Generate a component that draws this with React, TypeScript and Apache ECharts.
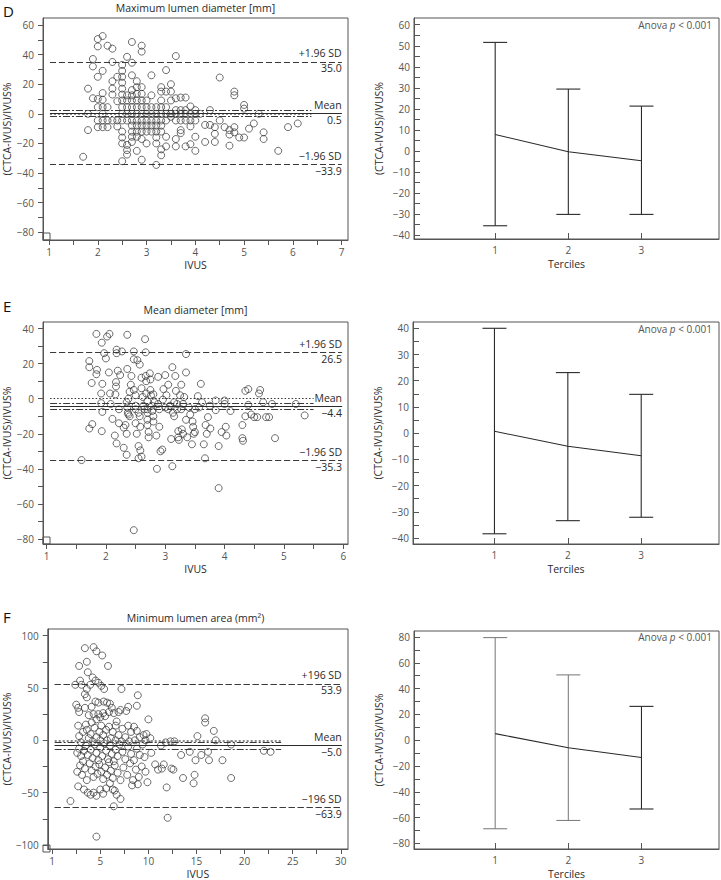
import React, { useEffect, useRef } from "react";
import * as echarts from "echarts";

const FONT = "'Open Sans', 'Noto Sans', sans-serif";
const INK = "#2a2a2a";
const GREY = "#555555";

// ---------- shared ----------
const tercileCats = [1, 2, 3];
const tercileTicks = [1, 2, 3];

// ---------- D: Maximum lumen diameter [mm] ----------
const maxDiamPoints: number[][] = [
  [1.7, -29], [1.8, 17], [1.8, 0], [1.8, -11],
  [1.9, 37], [1.9, 32], [1.9, 10.5],
  [2.0, 50.5], [2.0, 45.5], [2.0, 25], [2.0, 10], [2.0, 4.5], [2.0, -4.5], [2.0, -9],
  [2.1, 52.5], [2.1, 29], [2.1, 14], [2.1, 9.5], [2.1, 4.5], [2.1, 0], [2.1, -4.5], [2.1, -9],
  [2.2, 46], [2.2, 4.5], [2.2, -4.5], [2.2, -9],
  [2.3, 44], [2.3, 35], [2.3, 22], [2.3, 17], [2.3, 13], [2.3, -4.5],
  [2.4, 25], [2.4, 8.5], [2.4, -4.5], [2.4, -8.5],
  [2.5, 33], [2.5, 29], [2.5, 25], [2.5, 21], [2.5, 17], [2.5, 13], [2.5, 9], [2.5, 4.5], [2.5, 0], [2.5, -4.5], [2.5, -12], [2.5, -16], [2.5, -20], [2.5, -32],
  [2.6, 38.5], [2.6, 12.5], [2.6, 9], [2.6, 4.5], [2.6, 0], [2.6, -4.5], [2.6, -21], [2.6, -24.5], [2.6, -27.5],
  [2.7, 48.5], [2.7, 34.5], [2.7, 26], [2.7, 16], [2.7, 12.5], [2.7, 9], [2.7, 4.5], [2.7, 0], [2.7, -4.5], [2.7, -8], [2.7, -12], [2.7, -15.5], [2.7, -19],
  [2.8, 22], [2.8, 18], [2.8, 13.5], [2.8, 9], [2.8, 4.5], [2.8, 0], [2.8, -4.5], [2.8, -8], [2.8, -12], [2.8, -15.5], [2.8, -25],
  [2.9, 46], [2.9, 42], [2.9, 18], [2.9, 13.5], [2.9, 9], [2.9, 4.5], [2.9, 0], [2.9, -4.5], [2.9, -8], [2.9, -12], [2.9, -17], [2.9, -31],
  [3.0, 9], [3.0, 4.5], [3.0, 0], [3.0, -4.5], [3.0, -8], [3.0, -12], [3.0, -20],
  [3.1, 26], [3.1, 12.5], [3.1, 4.5], [3.1, 0], [3.1, -4.5], [3.1, -8], [3.1, -12],
  [3.2, 4.5], [3.2, 0], [3.2, -4.5], [3.2, -8], [3.2, -12], [3.2, -16], [3.2, -20], [3.2, -34.5],
  [3.3, 18], [3.3, 15], [3.3, 9], [3.3, 4.5], [3.3, 0], [3.3, -4.5], [3.3, -8], [3.3, -12], [3.3, -24], [3.3, -28],
  [3.4, 29.5], [3.4, 15], [3.4, 4.5], [3.4, 0], [3.4, -4.5], [3.4, -15.5], [3.4, -22],
  [3.5, 20], [3.5, 15], [3.5, 9], [3.5, 0], [3.5, -2],
  [3.6, 39], [3.6, 10.5], [3.6, 2.5], [3.6, 0], [3.6, -4.5], [3.6, -17], [3.6, -22],
  [3.7, 11], [3.7, 2.5], [3.7, 0], [3.7, -4.5], [3.7, -11], [3.7, -13],
  [3.8, 11], [3.8, 2.5], [3.8, 0], [3.8, -4.5], [3.8, -22],
  [3.9, 5], [3.9, 0], [3.9, -4.5], [3.9, -8.5], [3.9, -20.5],
  [4.0, 2.5], [4.0, 0], [4.0, -4.5], [4.0, -15.5], [4.0, -25],
  [4.1, 0], [4.2, -7.5], [4.2, -19], [4.3, 2.5], [4.3, -7.5],
  [4.4, -9], [4.4, -13.5], [4.4, -19], [4.5, 24.5], [4.5, -4.5], [4.6, -9],
  [4.7, -11], [4.7, -14], [4.7, -21.5], [4.8, 15], [4.8, 12.5], [4.8, -9], [4.8, -12.5],
  [4.9, -16], [5.0, 6], [5.0, 3.5], [5.0, -16], [5.1, -10], [5.2, -6.5], [5.3, 0],
  [5.4, -12.5], [5.4, -17], [5.7, -25], [5.9, -9], [6.1, -6.5],
];
const maxDiamLimits = [35.0, 0.5, -33.9]; // +1.96 SD, mean, -1.96 SD
const maxDiamMeanCI = [2.5, -1.5];
const maxDiamSpan = [1.02, 7.0];
const maxDiamCISpan = [1.02, 6.38];
const maxDiamXTicks = [1, 1.5, 2, 2.5, 3, 3.5, 4, 4.5, 5, 5.5, 6, 6.5, 7];
const maxDiamXLabels = [1, 2, 3, 4, 5, 6, 7];
const maxDiamYTicks = [-80, -70, -60, -50, -40, -30, -20, -10, 0, 10, 20, 30, 40, 50, 60];
const maxDiamYLabels = [-80, -60, -40, -20, 0, 20, 40, 60];
const maxDiamTercMean = [7.8, -0.4, -4.7];
const maxDiamTercLow = [-35.6, -30.2, -30.2];
const maxDiamTercHigh = [51.6, 29.4, 21.3];
const maxDiamTercYTicks = [-40, -35, -30, -25, -20, -15, -10, -5, 0, 5, 10, 15, 20, 25, 30, 35, 40, 45, 50, 55, 60];
const maxDiamTercYLabels = [-40, -30, -20, -10, 0, 10, 20, 30, 40, 50, 60];

// ---------- E: Mean diameter [mm] ----------
const meanDiamPoints: number[][] = [
  [1.59, -35], [1.72, 21.5], [1.72, 18], [1.76, 9], [1.72, -17], [1.77, -14.5],
  [1.84, 37], [1.85, 16.5], [1.84, 14], [1.93, 32], [1.92, 3], [1.92, -2.5], [1.94, -7.5], [1.94, 8.5], [1.93, -18.5],
  [1.97, 26], [2.0, 23], [2.02, 35.5], [2.06, 37], [2.05, 15], [2.07, 3], [2.08, -3], [2.11, -11.5], [2.15, -21], [2.18, -25.5],
  [2.17, 9.5], [2.17, 7], [2.16, 2.5], [2.18, 28], [2.18, 26], [2.2, 16], [2.22, -6], [2.22, -14], [2.24, 13.5],
  [2.27, 27], [2.3, -16.5], [2.3, -28], [2.33, -15], [2.35, -20], [2.35, -32], [2.36, 36.5], [2.36, 17], [2.35, -2], [2.36, -5], [2.37, -8], [2.38, -9], [2.4, -10], [2.4, 4], [2.38, 0], [2.42, 8], [2.43, 13],
  [2.47, 27], [2.47, 22.5], [2.47, 5], [2.5, -4], [2.5, -6], [2.5, -14], [2.52, -20], [2.5, 2], [2.53, 22], [2.55, -34], [2.55, -27], [2.57, 19.5], [2.55, -8], [2.57, -10], [2.58, -16], [2.58, -29.5], [2.6, -33],
  [2.6, 12], [2.6, 6], [2.62, 1], [2.63, -4], [2.65, -6], [2.66, 34], [2.67, 26.5], [2.67, 13], [2.68, 10], [2.68, 3], [2.7, -1.5], [2.7, -6], [2.7, -8], [2.7, -12], [2.7, -15], [2.72, -19], [2.72, -22],
  [2.74, 14.5], [2.75, 11], [2.75, 5], [2.76, 2], [2.77, -4], [2.78, -7], [2.8, -10], [2.8, -13], [2.8, 2.5], [2.82, -2], [2.85, -21], [2.86, -40], [2.88, 12.5], [2.88, -3], [2.9, -6], [2.9, -16], [2.92, -30], [2.95, -29], [2.96, -0.5], [2.97, 5.5],
  [3.0, -5], [3.0, 13.5], [3.02, 2], [3.05, 8], [3.05, -6], [3.08, -4], [3.1, -23], [3.12, 18], [3.12, -38.5], [3.13, -8], [3.15, -10], [3.15, -2], [3.17, 13], [3.18, 4.5], [3.2, -6], [3.2, -3], [3.22, -18.5], [3.22, -22], [3.23, -23.5], [3.25, 2], [3.27, 8], [3.27, -6], [3.28, -17.5], [3.3, -3], [3.3, -20], [3.32, 1], [3.35, 25.5], [3.35, 15], [3.35, -12], [3.37, -22],
  [3.4, -5], [3.42, -9], [3.45, -26], [3.46, -13], [3.47, -16], [3.48, -20], [3.5, -6], [3.5, -19], [3.55, 1.5], [3.57, -5], [3.6, 8.5], [3.62, -2], [3.65, -26], [3.67, -34], [3.68, -15], [3.7, -20], [3.72, -10.5], [3.75, -4], [3.76, -17],
  [3.85, -1], [3.85, -6.5], [3.9, -27], [3.9, -51], [3.95, -19], [4.0, -1], [4.0, -3], [4.02, -16], [4.03, -21], [4.1, -7],
  [4.3, -15], [4.3, -22.5], [4.31, -24], [4.35, 4.5], [4.35, -10], [4.4, 5.5], [4.4, -3.5], [4.45, -9], [4.5, -10.5], [4.55, -10.5], [4.58, 3], [4.6, 5], [4.65, -2], [4.7, -10.5], [4.75, -10.5], [4.8, -3], [4.85, -22.5], [5.2, -3], [5.35, -9.5],
  [2.47, -75],
];
const meanDiamLimits = [26.5, -4.4, -35.3];
const meanDiamMeanCI = [-2.6, -6.2];
const meanDiamSpan = [1.06, 5.98];
const meanDiamCISpan = [1.06, 5.5];
const meanDiamXTicks = [1, 1.5, 2, 2.5, 3, 3.5, 4, 4.5, 5, 5.5, 6];
const meanDiamXLabels = [1, 2, 3, 4, 5, 6];
const meanDiamYTicks = [-80, -70, -60, -50, -40, -30, -20, -10, 0, 10, 20, 30, 40];
const meanDiamYLabels = [-80, -60, -40, -20, 0, 20, 40];
const meanDiamTercMean = [0.7, -5.0, -8.6];
const meanDiamTercLow = [-38.4, -33.4, -32.1];
const meanDiamTercHigh = [40.0, 23.1, 14.8];
const meanDiamTercYTicks = [-40, -35, -30, -25, -20, -15, -10, -5, 0, 5, 10, 15, 20, 25, 30, 35, 40];
const meanDiamTercYLabels = [-40, -30, -20, -10, 0, 10, 20, 30, 40];

// ---------- F: Minimum lumen area (mm2) ----------
const minAreaPoints: number[][] = [
  [3.4, 88], [4.3, 89], [4.6, 85], [5.2, 81], [5.8, 71], [2.8, 71], [3.6, 75], [3.7, 65], [4.2, 60], [4.5, 57], [4.8, 55],
  [2.4, 53], [2.9, 57], [3.05, 53], [3.4, 44], [3.6, 49], [3.95, 53], [5.1, 52], [5.4, 49], [7.2, 49], [8.9, 43],
  [2.5, 34], [2.7, 31], [2.8, 27], [3.4, 31], [3.6, 41], [4.1, 32], [4.5, 37], [4.8, 36], [5.35, 37], [5.7, 36], [6.0, 35], [6.2, 31], [6.9, 27], [7.1, 29], [7.7, 28], [7.9, 32], [8.8, 33],
  [4.3, 25], [4.8, 25], [5.3, 26], [5.9, 27], [6.4, 26], [10.0, 20], [6.7, 18], [5.5, 23], [3.8, 24], [4.6, 20], [5.0, 22],
  [2.7, 14], [3.5, 15], [4.1, 17], [2.8, 4], [3.0, -2], [3.2, 8], [3.6, 10], [4.0, 6], [4.4, 12], [4.6, 3], [4.9, 8], [5.1, 14], [5.3, 5], [5.6, 10], [5.9, 13], [6.1, 2], [6.3, 8], [6.6, 14], [6.9, 5], [7.3, 11], [7.6, 3], [7.9, 14], [8.2, 8], [8.5, 13], [8.8, 9], [9.1, 3], [9.5, 5], [9.7, 0], [9.8, 6], [10.2, 2],
  [5.0, 0], [5.7, 0], [6.6, 0], [7.2, -1], [8.0, -1], [8.6, 0], [4.2, -1], [3.8, 2],
  [2.6, -12], [2.8, -8], [3.0, -15], [3.2, -20], [3.3, -10], [3.5, -5], [3.7, -14], [4.0, -9], [4.2, -17], [4.4, -4], [4.6, -12], [4.8, -19], [5.0, -7], [5.2, -15], [5.4, -3], [5.6, -10], [5.8, -18], [6.0, -5], [6.2, -13], [6.4, -20], [6.6, -9], [6.8, -15], [7.0, -4], [7.3, -11], [7.6, -18], [7.9, -6], [8.2, -13], [8.5, -19], [8.8, -8], [9.1, -14], [9.4, -4], [9.6, -16], [10.3, -12],
  [11.3, -5], [11.8, -2], [12.3, -1], [12.7, -1], [13.4, -14], [14.3, -11], [14.9, -19], [15.1, 4], [15.5, -14], [15.9, 21], [15.9, 17], [16.2, -11], [16.3, -19], [16.8, 9], [17.0, 0], [17.7, -19], [18.6, -4], [22.0, -10], [22.7, -11],
  [2.6, -30], [2.9, -24], [3.1, -33], [3.4, -27], [3.6, -38], [3.9, -22], [4.1, -29], [4.3, -35], [4.5, -25], [4.7, -32], [4.9, -23], [5.1, -30], [5.3, -37], [5.5, -26], [5.7, -33], [5.9, -21], [6.1, -29], [6.3, -36], [6.5, -24], [6.8, -31], [7.1, -38], [7.4, -26], [7.8, -33], [8.1, -22], [8.4, -38], [8.7, -28], [9.0, -35], [9.3, -25], [9.7, -30],
  [10.7, -23], [11.0, -28], [11.4, -27], [11.6, -23], [12.4, -27], [12.6, -28], [13.6, -36], [14.7, -41], [14.8, -33], [18.6, -36],
  [2.7, -44], [3.3, -47], [3.7, -50], [4.0, -52], [4.3, -50], [4.6, -53], [5.0, -47], [5.3, -51], [5.6, -46], [6.0, -41], [6.3, -47], [6.5, -48], [6.7, -52], [7.1, -56], [8.3, -43], [8.9, -42], [9.9, -40], [11.9, -45],
  [1.9, -58], [6.4, -63], [12.0, -74], [4.6, -92],
];
const minAreaLimits = [53.9, -5.0, -63.9];
const minAreaMeanCI = [-1.6, -8.4];
const minAreaSpan = [0.26, 30.1];
const minAreaCISpan = [0.26, 23.8];
const minAreaXTicks = [0, 2.5, 5, 7.5, 10, 12.5, 15, 17.5, 20, 22.5, 25, 27.5, 30];
const minAreaXLabels = [0, 5, 10, 15, 20, 25, 30];
const minAreaYTicks = [-100, -75, -50, -25, 0, 25, 50, 75, 100];
const minAreaYLabels = [-100, -50, 0, 50, 100];
const minAreaTercMean = [5.1, -5.8, -13.4];
const minAreaTercLow = [-68.6, -62.2, -53.3];
const minAreaTercHigh = [79.5, 50.6, 26.2];
const minAreaTercYTicks = [-80, -70, -60, -50, -40, -30, -20, -10, 0, 10, 20, 30, 40, 50, 60, 70, 80];
const minAreaTercYLabels = [-80, -60, -40, -20, 0, 20, 40, 60, 80];

// ---------- helpers ----------
const fmt = (v: number) => (v < 0 ? "\u2212" + Math.abs(v) : String(v));
const fmtFixed = (v: number) => (v < 0 ? "\u2212" + Math.abs(v).toFixed(1) : v.toFixed(1));

const tickLabelStyle = { color: GREY, fontSize: 10, fontFamily: FONT };
const nameStyle = { color: INK, fontSize: 10.5, fontFamily: FONT };

function baAxes(gi: number, cfg: any) {
  const xAxis = {
    type: "value", gridIndex: gi, min: cfg.xMin, max: cfg.xMax,
    name: "IVUS", nameLocation: "middle", nameGap: 19, nameTextStyle: nameStyle,
    axisLine: { show: true, onZero: false, lineStyle: { color: GREY } },
    splitLine: { show: false },
    axisTick: { show: true, length: 5, customValues: cfg.xTicks, lineStyle: { color: GREY } },
    axisLabel: { customValues: cfg.xLabels, margin: 7, ...tickLabelStyle, formatter: cfg.xFmt || fmt },
  };
  const yAxis = {
    type: "value", gridIndex: gi, min: cfg.yMin, max: cfg.yMax,
    name: "(CTCA-IVUS)/IVUS%", nameLocation: "middle", nameGap: 30, nameTextStyle: nameStyle,
    axisLine: { show: true, onZero: false, lineStyle: { color: GREY } },
    splitLine: { show: false },
    axisTick: { show: true, length: 5, customValues: cfg.yTicks, lineStyle: { color: GREY } },
    axisLabel: { customValues: cfg.yLabels, margin: 9, ...tickLabelStyle, formatter: fmt },
  };
  return { xAxis, yAxis };
}

function hLine(y: number, span: number[], lineStyle: any, label?: string, pos?: string) {
  return [
    {
      coord: [span[0], y],
      lineStyle,
      label: label
        ? { show: true, position: pos, formatter: label, color: INK, fontSize: 10.5, fontFamily: FONT, distance: pos === "insideEndTop" ? [0, 3] : [0, 1] }
        : { show: false },
    },
    { coord: [span[1], y] },
  ];
}

function baSeries(gi: number, cfg: any) {
  const dashed = { color: "#3a3a3a", width: 1.1, type: [6, 3] };
  const solid = { color: "#2a2a2a", width: 1.1, type: "solid" };
  const dashDot = { color: "#3a3a3a", width: 1, type: [7, 2, 2, 2] };
  const [up, mean, lo] = cfg.limits;
  return {
    type: "scatter", xAxisIndex: gi, yAxisIndex: gi,
    data: cfg.points,
    symbol: "circle", symbolSize: 7,
    itemStyle: { color: "rgba(255,255,255,0)", borderColor: "#333", borderWidth: 0.9 },
    silent: true,
    markLine: {
      silent: true, symbol: ["none", "none"], animation: false,
      emphasis: { disabled: true },
      data: [
        hLine(0, cfg.ciSpan, cfg.zeroStyle),
        hLine(cfg.ci[0], cfg.ciSpan, dashDot),
        hLine(cfg.ci[1], cfg.ciSpan, dashDot),
        hLine(up, cfg.span, dashed, cfg.upLabel, "insideEndTop"),
        hLine(up, cfg.span, dashed, fmtFixed(up), "insideEndBottom"),
        hLine(mean, cfg.span, solid, "Mean", "insideEndTop"),
        hLine(mean, cfg.span, solid, fmtFixed(mean), "insideEndBottom"),
        hLine(lo, cfg.span, dashed, cfg.loLabel, "insideEndTop"),
        hLine(lo, cfg.span, dashed, fmtFixed(lo), "insideEndBottom"),
      ],
    },
  };
}

function tercAxes(gi: number, cfg: any) {
  const xAxis = {
    type: "value", gridIndex: gi, min: -0.11, max: 4.06,
    name: "Terciles", nameLocation: "middle", nameGap: 19, nameTextStyle: nameStyle,
    axisLine: { show: true, onZero: false, lineStyle: { color: GREY } },
    splitLine: { show: false },
    axisTick: { show: true, inside: true, length: 6, customValues: tercileTicks, lineStyle: { color: GREY } },
    axisLabel: { customValues: tercileTicks, margin: 6, ...tickLabelStyle },
  };
  const yAxis = {
    type: "value", gridIndex: gi, min: cfg.yMin, max: cfg.yMax,
    name: "(CTCA-IVUS)/IVUS%", nameLocation: "middle", nameGap: 30, nameTextStyle: nameStyle,
    axisLine: { show: true, onZero: false, lineStyle: { color: GREY } },
    splitLine: { show: false },
    axisTick: { show: true, inside: true, length: 6, customValues: cfg.yTicks, lineStyle: { color: GREY } },
    axisLabel: { customValues: cfg.yLabels, margin: 4, ...tickLabelStyle, formatter: fmt },
  };
  return { xAxis, yAxis };
}

function tercSeries(gi: number, cfg: any) {
  const data = tercileCats.map((c, i) => [c, cfg.mean[i], cfg.low[i], cfg.high[i]]);
  return [
    {
      type: "custom", xAxisIndex: gi, yAxisIndex: gi, data, silent: true,
      encode: { x: 0, y: [2, 3] },
      renderItem: (params: any, api: any) => {
        const x = api.value(0);
        const top = api.coord([x, api.value(3)]);
        const bot = api.coord([x, api.value(2)]);
        const hw = 12;
        const style = { stroke: cfg.colors[params.dataIndex], lineWidth: 1.1, fill: "none" };
        return {
          type: "group",
          children: [
            { type: "line", shape: { x1: top[0], y1: top[1], x2: bot[0], y2: bot[1] }, style },
            { type: "line", shape: { x1: top[0] - hw, y1: top[1], x2: top[0] + hw, y2: top[1] }, style },
            { type: "line", shape: { x1: bot[0] - hw, y1: bot[1], x2: bot[0] + hw, y2: bot[1] }, style },
          ],
        };
      },
    },
    {
      type: "line", xAxisIndex: gi, yAxisIndex: gi, silent: true,
      data: tercileCats.map((c, i) => [c, cfg.mean[i]]),
      symbol: "none", lineStyle: { color: "#2a2a2a", width: 1.1 },
    },
  ];
}

function textG(text: string, x: number, y: number, align: string, size: number, color: string, rich?: any, vAlign = "middle") {
  return {
    type: "text", x, y, silent: true,
    style: { text, align, verticalAlign: vAlign, fontSize: size, fontFamily: FONT, fill: color, rich },
  };
}

export default function App() {
  const ref = useRef<HTMLDivElement>(null);
  useEffect(() => {
    if (!ref.current) return;
    const chart = echarts.init(ref.current, undefined, { renderer: "svg" });

    const gridBase = { show: true, borderColor: GREY, borderWidth: 1, backgroundColor: "transparent", containLabel: false };
    const grids = [
      { ...gridBase, left: 43, top: 18, width: 305, height: 222 },
      { ...gridBase, left: 414, top: 18, width: 305, height: 221 },
      { ...gridBase, left: 43, top: 322, width: 305, height: 222 },
      { ...gridBase, left: 413, top: 322, width: 306, height: 222 },
      { ...gridBase, left: 43, top: 629, width: 305, height: 223 },
      { ...gridBase, left: 414, top: 631, width: 305, height: 221 },
    ];

    const zeroGrey = { color: "#8a8a8a", width: 2, type: [2, 2] };
    const zeroBlack = { color: "#333", width: 1, type: [1.5, 2] };

    const dCfg = {
      points: maxDiamPoints, limits: maxDiamLimits, ci: maxDiamMeanCI, span: maxDiamSpan, ciSpan: maxDiamCISpan,
      xMin: 0.877, xMax: 7.13, yMin: -85.2, yMax: 64.7,
      xTicks: maxDiamXTicks, xLabels: maxDiamXLabels, yTicks: maxDiamYTicks, yLabels: maxDiamYLabels,
      upLabel: "+1.96 SD", loLabel: "\u22121.96 SD", zeroStyle: zeroGrey,
    };
    const eCfg = {
      points: meanDiamPoints, limits: meanDiamLimits, ci: meanDiamMeanCI, span: meanDiamSpan, ciSpan: meanDiamCISpan,
      xMin: 0.94, xMax: 6.08, yMin: -82.9, yMax: 43.8,
      xTicks: meanDiamXTicks, xLabels: meanDiamXLabels, yTicks: meanDiamYTicks, yLabels: meanDiamYLabels,
      upLabel: "+1.96 SD", loLabel: "\u22121.96 SD", zeroStyle: zeroBlack,
    };
    const fCfg = {
      points: minAreaPoints, limits: minAreaLimits, ci: minAreaMeanCI, span: minAreaSpan, ciSpan: minAreaCISpan,
      xMin: -0.46, xMax: 30.75, yMin: -103.8, yMax: 106.3,
      xTicks: minAreaXTicks, xLabels: minAreaXLabels, yTicks: minAreaYTicks, yLabels: minAreaYLabels,
      xFmt: (v: number) => (v === 0 ? "1" : String(v)),
      upLabel: "+196 SD", loLabel: "\u2212196 SD", zeroStyle: zeroGrey,
    };
    const dT = { mean: maxDiamTercMean, low: maxDiamTercLow, high: maxDiamTercHigh, yMin: -41.9, yMax: 63.2, yTicks: maxDiamTercYTicks, yLabels: maxDiamTercYLabels, colors: ["#2a2a2a", "#2a2a2a", "#2a2a2a"] };
    const eT = { mean: meanDiamTercMean, low: meanDiamTercLow, high: meanDiamTercHigh, yMin: -42.3, yMax: 42.4, yTicks: meanDiamTercYTicks, yLabels: meanDiamTercYLabels, colors: ["#2a2a2a", "#2a2a2a", "#2a2a2a"] };
    const fT = { mean: minAreaTercMean, low: minAreaTercLow, high: minAreaTercHigh, yMin: -84.3, yMax: 84.6, yTicks: minAreaTercYTicks, yLabels: minAreaTercYLabels, colors: ["#808080", "#808080", "#2a2a2a"] };

    const a0 = baAxes(0, dCfg), a1 = tercAxes(1, dT), a2 = baAxes(2, eCfg), a3 = tercAxes(3, eT), a4 = baAxes(4, fCfg), a5 = tercAxes(5, fT);

    const anovaRich = { i: { fontStyle: "italic", fontSize: 10, fontFamily: FONT, fill: GREY, color: GREY } };

    const option: any = {
      animation: false,
      textStyle: { fontFamily: FONT },
      grid: grids,
      xAxis: [a0.xAxis, a1.xAxis, a2.xAxis, a3.xAxis, a4.xAxis, a5.xAxis],
      yAxis: [a0.yAxis, a1.yAxis, a2.yAxis, a3.yAxis, a4.yAxis, a5.yAxis],
      series: [
        baSeries(0, dCfg), ...tercSeries(1, dT),
        baSeries(2, eCfg), ...tercSeries(3, eT),
        baSeries(4, fCfg), ...tercSeries(5, fT),
      ],
      graphic: [
        textG("D", 3, 11, "left", 15, "#111"),
        textG("E", 3, 306, "left", 15, "#111"),
        textG("F", 3, 617, "left", 15, "#111"),
        textG("Maximum lumen diameter [mm]", 195.5, 8, "center", 10.5, INK),
        textG("Mean diameter [mm]", 195.5, 310, "center", 10.5, INK),
        textG("Minimum lumen area (mm\u00B2)", 195.5, 618, "center", 10.5, INK),
        textG("Anova {i|p} < 0.001", 712, 25, "right", 10, GREY, anovaRich),
        textG("Anova {i|p} < 0.001", 712, 329, "right", 10, GREY, anovaRich),
        textG("Anova {i|p} < 0.001", 712, 637, "right", 10, GREY, anovaRich),
        { type: "rect", silent: true, shape: { x: 43, y: 233, width: 7, height: 7 }, style: { fill: "none", stroke: GREY, lineWidth: 1 } },
        { type: "rect", silent: true, shape: { x: 43, y: 537, width: 7, height: 7 }, style: { fill: "none", stroke: GREY, lineWidth: 1 } },
        { type: "rect", silent: true, shape: { x: 43, y: 845, width: 7, height: 7 }, style: { fill: "none", stroke: GREY, lineWidth: 1 } },
      ],
    };
    chart.setOption(option);
    return () => chart.dispose();
  }, []);

  return (
    <div
      ref={ref}
      style={{ position: "absolute", left: 0, top: 0, width: 721, height: 880, background: "#fff" }}
    />
  );
}
